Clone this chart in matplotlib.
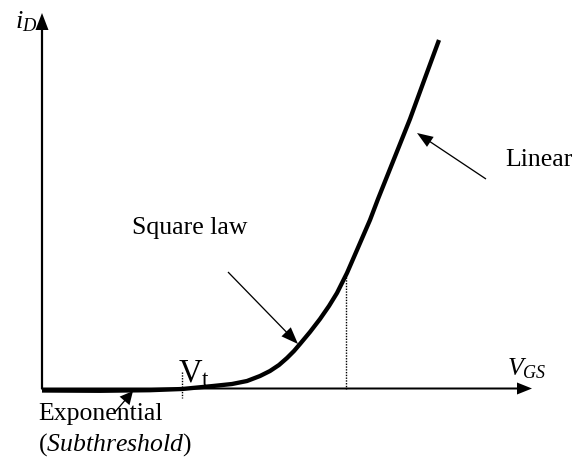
import matplotlib
matplotlib.use("Agg")
import matplotlib.pyplot as plt

plt.rcParams['font.family'] = ['Liberation Serif', 'DejaVu Serif']
plt.rcParams['mathtext.fontset'] = 'custom'
plt.rcParams['mathtext.rm'] = 'Liberation Serif'
plt.rcParams['mathtext.it'] = 'Liberation Serif:italic'

# I-V curve (V_GS, i_D) in drawing units
vgs = [0, 58, 108, 140, 171, 190, 205, 218, 228, 237, 245, 252, 258, 268, 278, 287, 295,
       305, 315, 328, 336, 352, 368, 383, 397]
i_d = [-1.5, -1.8, -1.2, 0, 3, 5, 8, 13, 18, 24, 31, 38, 45, 57, 70, 83, 96,
       116, 139, 169, 190, 230, 270, 311, 349]

vt_x = 140          # threshold voltage position
vsat_x = 304        # square-law / linear boundary
vsat_y = 112

labels = {
    "square": "Square law",
    "linear": "Linear",
    "exp": "Exponential",
    "sub": r"($\mathit{Subthreshold}$)",
    "vt": r"V$_\mathrm{t}$",
    "vgs": r"$V_{GS}$",
    "id": r"$i_D$",
}

fig = plt.figure(figsize=(5.76, 4.57), dpi=100)
ax = fig.add_axes([0, 0, 1, 1])
ax.set_xlim(-42, 534)
ax.set_ylim(-68, 389)
ax.axis('off')

# axes arrows
ax.arrow(0, 0, 0, 376, width=2.2, head_width=13, head_length=17,
         length_includes_head=True, color='black', lw=0)
ax.arrow(-1, 0.5, 491, 0, width=2.0, head_width=12, head_length=15,
         length_includes_head=True, color='black', lw=0)

# curve
ax.plot(vgs, i_d, color='black', lw=3.1, solid_capstyle='butt', solid_joinstyle='round')

# dotted guides
ax.plot([vt_x, vt_x], [17, -9], color='black', lw=1.0, linestyle=(0, (1, 1)))
ax.plot([vsat_x, vsat_x], [vsat_y, 0], color='black', lw=1.0, linestyle=(0, (1, 1)))

# annotation arrows
ax.arrow(444, 210, -69, 46, width=1.3, head_width=12, head_length=16,
         length_includes_head=True, color='black', lw=0)
ax.arrow(186, 117, 70, -72, width=1.3, head_width=13, head_length=17,
         length_includes_head=True, color='black', lw=0)
ax.arrow(73, -23, 18, 21, width=1.3, head_width=13, head_length=13,
         length_includes_head=True, color='black', lw=0)

fs = 18.5
ax.text(90, 161, labels["square"], fontsize=fs, ha='left', va='center')
ax.text(463, 229, labels["linear"], fontsize=fs, ha='left', va='center')
ax.text(-4, -25, labels["exp"], fontsize=fs, ha='left', va='center')
ax.text(-4, -56, labels["sub"], fontsize=fs, ha='left', va='center')
ax.text(136, 7, labels["vt"], fontsize=23.5, ha='left', va='baseline')
ax.text(465, 14, labels["vgs"], fontsize=18.5, ha='left', va='baseline')
ax.text(-27, 361, labels["id"], fontsize=19, ha='left', va='baseline')

fig.savefig("out.png", dpi=100)
